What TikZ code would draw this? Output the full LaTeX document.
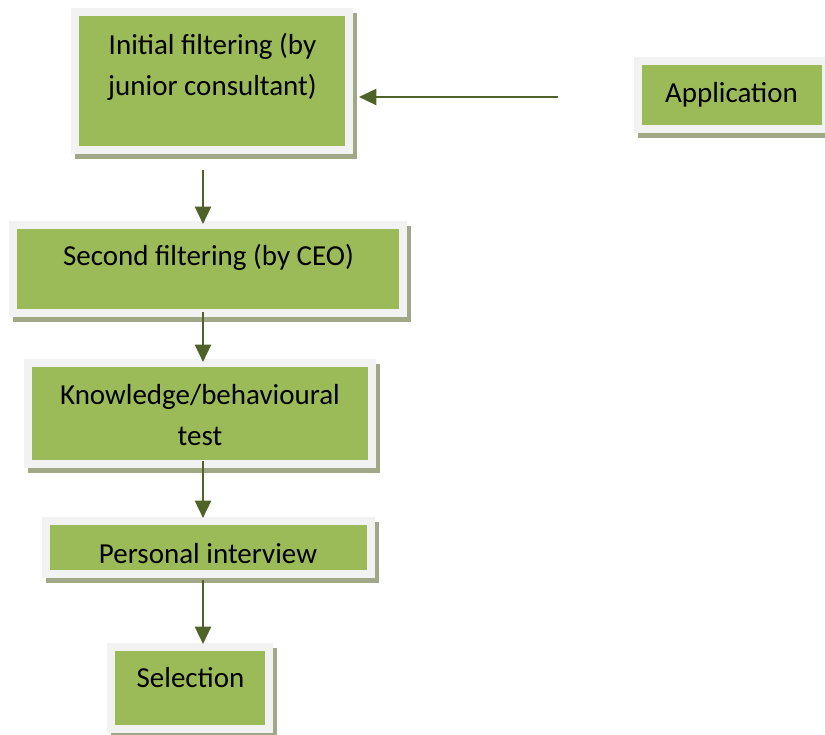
\documentclass[tikz,border=0pt]{standalone}
\usepackage{fontspec}
\setmainfont{Carlito}
\usetikzlibrary{arrows.meta,shadows,calc}
\definecolor{boxgreen}{HTML}{9BBB59}
\definecolor{framegray}{HTML}{F2F2F2}
\definecolor{shadowgreen}{HTML}{A0A888}
\definecolor{arrowgreen}{HTML}{4F6228}

\begin{document}
\begin{tikzpicture}[x=0.75pt, y=-0.75pt,
  stepbox/.style={fill=boxgreen, draw=framegray, line width=6pt, inner sep=0pt,
    drop shadow={shadow xshift=3pt, shadow yshift=-3.75pt, fill=shadowgreen,
      draw=shadowgreen, opacity=1}},
  steptext/.style={font=\fontsize{21.75pt}{30.75pt}\selectfont, align=center,
    anchor=base, inner sep=0pt},
  flow/.style={draw=arrowgreen, line width=1.8pt,
    -{Triangle[length=13pt, width=12pt]}}]

  \newcommand\U{0.75pt}
  \useasboundingbox (0,0) rectangle (825,735);

  % boxes
  \node[stepbox, minimum width=274*\U, minimum height=138*\U] (init) at (212,81) {};
  \node[stepbox, minimum width=188*\U, minimum height=68*\U] (app) at (732,95) {};
  \node[stepbox, minimum width=390*\U, minimum height=88*\U] (ceo) at (208,269) {};
  \node[stepbox, minimum width=344*\U, minimum height=101*\U] (test) at (200,413.5) {};
  \node[stepbox, minimum width=325*\U, minimum height=53*\U] (intv) at (208.5,547.5) {};
  \node[stepbox, minimum width=158*\U, minimum height=82*\U] (sel) at (190,688) {};

  % texts (base = last line)
  \node[steptext] (init-t) at (212.5,95) {Initial filtering (by\\junior consultant)};
  \node[steptext] (app-t) at (731.5,103) {Application};
  \node[steptext] (ceo-t) at (208.5,265) {Second filtering (by CEO)};
  \node[steptext] (test-t) at (200,445) {Knowledge/behavioural\\test};
  \node[steptext] (intv-t) at (208,563) {Personal interview};
  \node[steptext] (sel-t) at (190.5,687) {Selection};

  \coordinate (axis) at (203,0);

  \draw[flow] ($(app.west)+(-76,2)$) -- ($(init.east |- app.west)+(6,2)$); %% app->init
  \draw[flow] ($(init.south -| axis)+(0,16)$) -- ($(ceo.north -| axis)+(0,3)$); %% init->ceo
  \draw[flow] ($(ceo.south -| axis)+(0,-5)$) -- ($(test.north -| axis)+(0,3)$); %% ceo->test
  \draw[flow] ($(test.south -| axis)+(0,-7)$) -- ($(intv.north -| axis)+(0,1)$); %% test->intv
  \draw[flow] ($(intv.south -| axis)+(0,2)$) -- ($(sel.north -| axis)+(0,1)$); %% intv->sel
\end{tikzpicture}
\end{document}
